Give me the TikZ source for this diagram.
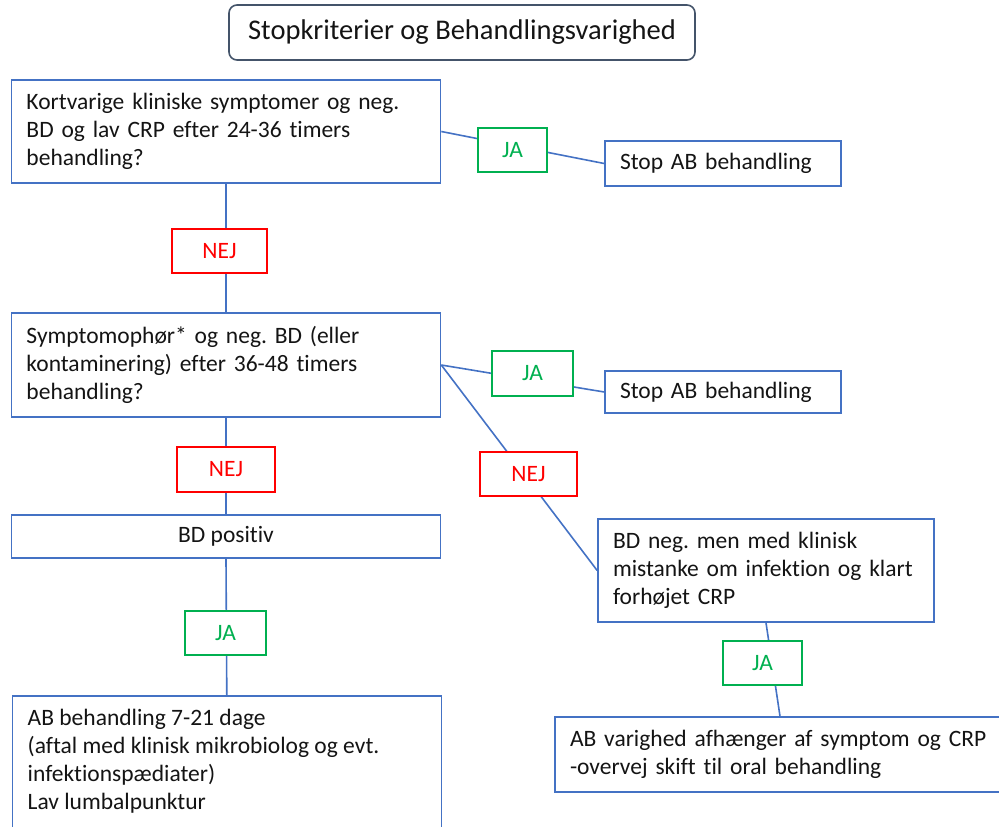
\documentclass[tikz,border=0pt]{standalone}
\usepackage{fontspec}
\setmainfont{Carlito}[Ligatures=NoCommon]
\usetikzlibrary{calc}
\definecolor{bblue}{HTML}{4472C4}
\definecolor{jagreen}{HTML}{00B050}
\definecolor{nejred}{HTML}{FF0000}
\definecolor{txt}{HTML}{141414}
\definecolor{titleline}{HTML}{44546A}
\frenchspacing
\begin{document}
\begin{tikzpicture}[x=1pt,y=-1pt,
  mainfont/.style={font=\fontsize{23.5}{28}\selectfont},
  box/.style={draw=bblue, line width=1.6pt, fill=white, text=txt, inner ysep=0pt, mainfont},
  lbox/.style={box, align=left, inner xsep=15pt},
  lab/.style={line width=1.6pt, fill=white, inner sep=0pt, mainfont},
  jabox/.style={lab, draw=jagreen, text=jagreen},
  nejbox/.style={lab, draw=nejred, text=nejred},
  conn/.style={draw=bblue, line width=1.6pt}
]
\useasboundingbox (0,0) rectangle (999,827);
\clip (0,0) rectangle (999,827);

% title
\node[draw=titleline, line width=1.6pt, rounded corners=8pt, minimum width=466pt, minimum height=55pt, inner sep=0pt, text=txt, font=\fontsize{28.5}{34}\selectfont] (title) at (462,32.5) {Stopkriterier og Behandlingsvarighed};

% main boxes
\node[lbox, text width=399pt, minimum height=103pt] (b1) at (226,131.5)
  {Kortvarige kliniske symptomer og neg.\\BD og lav CRP efter 24-36 timers\\behandling?};
\node[lbox, text width=206pt, minimum height=45pt] (s1) at (723,163.5) {Stop AB behandling};
\node[lbox, text width=399pt, minimum height=104pt] (b2) at (226,365)
  {Symptomophør* og neg. BD (eller\\kontaminering) efter 36-48 timers\\behandling?};
\node[lbox, text width=206pt, minimum height=42pt] (s2) at (723,392) {Stop AB behandling};
\node[box, minimum width=429pt, minimum height=43pt, inner xsep=0pt] (bdpos) at (226,536.5) {BD positiv};
\node[lbox, text width=306pt, minimum height=103pt] (bdneg) at (766,570.5)
  {BD neg. men med klinisk\\mistanke om infektion og klart\\forhøjet CRP};
\node[lbox, text width=420pt, minimum height=75pt] (abv) at (780,754.5)
  {AB varighed afhænger af symptom og CRP\\-overvej skift til oral behandling};
\node[box, minimum width=429pt, minimum height=160pt, inner xsep=0pt, anchor=north west] (b5) at (11.5,695) {};
\node[anchor=north west, align=left, inner sep=0pt, text=txt, mainfont] (b5t) at ($(b5.north west)+(16,14)$)
  {AB behandling 7-21 dage\\(aftal med klinisk mikrobiolog og evt.\\infektionspædiater)\\Lav lumbalpunktur};

% connectors
\draw[conn] (b1.east) -- (s1.west);
\draw[conn] (b1.south) -- (b2.north);
\draw[conn] (b2.east) -- (s2.west);
\draw[conn] (b2.east) -- (bdneg.west);
\draw[conn] (b2.south) -- (bdpos.north);
\draw[conn] (bdpos.south) -- (b5.north);
\draw[conn] (bdneg.south) -- (abv.north);

% labels
\node[jabox, minimum width=69pt, minimum height=44pt] (ja1) at (512.5,150) {JA};
\node[nejbox, minimum width=95pt, minimum height=44pt] (nej1) at (219.5,251) {NEJ};
\node[jabox, minimum width=81pt, minimum height=45pt] (ja2) at (532.5,373.5) {JA};
\node[nejbox, minimum width=98pt, minimum height=45pt] (nej2) at (226,469.5) {NEJ};
\node[nejbox, minimum width=97pt, minimum height=44pt] (nej3) at (528.5,474) {NEJ};
\node[jabox, minimum width=81pt, minimum height=44pt] (ja3) at (225.5,633) {JA};
\node[jabox, minimum width=79pt, minimum height=44pt] (ja4) at (762.5,663) {JA};
\end{tikzpicture}
\end{document}
